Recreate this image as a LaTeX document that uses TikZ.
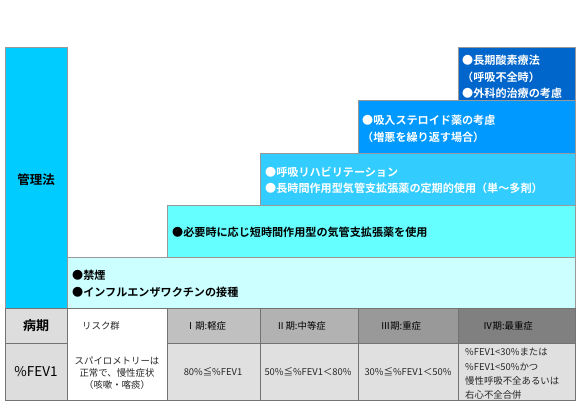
\documentclass[tikz,border=0pt]{standalone}
\usepackage{fontspec}
\setmainfont{Noto Sans CJK JP}[BoldFont={Noto Sans CJK JP Bold}]
\usepackage{xcolor}
\definecolor{kanri}{HTML}{00CCFF}
\definecolor{stepA}{HTML}{CCFFFF}
\definecolor{stepB}{HTML}{66FFFF}
\definecolor{stepC}{HTML}{33CCFF}
\definecolor{stepD}{HTML}{0099FF}
\definecolor{stepE}{HTML}{0066CC}
\definecolor{hdr}{HTML}{DDDDDD}
\definecolor{val}{HTML}{E0E0E0}

\begin{document}
\begin{tikzpicture}[x=1pt,y=-1pt,
  box/.style={draw=black!40, line width=0.6pt},
  tbl/.style={draw=black!55, line width=0.6pt},
  txt/.style={anchor=west, inner sep=0pt, font=\bfseries\fontsize{11.1}{12}\selectfont},
  cell/.style={inner sep=0pt, text=black!85, font=\fontsize{9.4}{12}\selectfont}]
\useasboundingbox (0,0) rectangle (580,408);

% 1. 管理法
\draw[box, fill=kanri] (5,47) rectangle (67,308);
\node[font=\bfseries\fontsize{12.5}{14}\selectfont] (kanri) at (36,180) {管理法};

% 2. 階段
\draw[box, fill=stepA] (67,257) rectangle (575,308);
\draw[box, fill=stepB] (167,205) rectangle (575,257);
\draw[box, fill=stepC] (260,153) rectangle (575,205);
\draw[box, fill=stepD] (358,100) rectangle (575,153);
\draw[box, fill=stepE] (458,47) rectangle (575,100);

\node[txt] (kinen) at (72,275) {●禁煙};
\node[txt] (vac) at (72,292) {●インフルエンザワクチンの接種};
\node[txt] (sabd) at (172,232) {●必要時に応じ短時間作用型の気管支拡張薬を使用};
\node[txt, white] (reha) at (265,172) {●呼吸リハビリテーション};
\node[txt, white] (laba) at (265,188) {●長時間作用型気管支拡張薬の定期的使用（単～多剤）};
\node[txt, white] (ics) at (362,120) {●吸入ステロイド薬の考慮};
\node[txt, white] (zoaku) at (362,137) {（増悪を繰り返す場合）};
\node[txt, white] (ltot) at (462,60) {●長期酸素療法};
\node[txt, white] (fuzen) at (462,77) {（呼吸不全時）};
\node[txt, white] (geka) at (462,93) {●外科的治療の考慮};

% 3. 病期の表
\draw[tbl, fill=hdr] (5,308) rectangle (67,343);
\draw[tbl, fill=hdr] (5,343) rectangle (67,400);
\draw[tbl, fill=white] (67,308) rectangle (167,400);
\foreach \xa/\xb/\col in {167/260/C0C0C0, 260/358/B2B2B2, 358/458/999999, 458/575/808080}{
  \definecolor{tmp}{HTML}{\col}
  \draw[tbl, fill=tmp] (\xa,308) rectangle (\xb,343);
  \draw[tbl, fill=val] (\xa,343) rectangle (\xb,400);
}
\node[font=\bfseries\fontsize{13}{14}\selectfont] (byoki) at (36,326) {病期};
\node[font=\fontsize{13.5}{14}\selectfont] (fev) at (36,372) {\%FEV1};

\node[cell] (risk) at (101,326) {リスク群};
\node[cell, text=black] (st1) at (206,326) {Ⅰ期:軽症};
\node[cell, text=black] (st2) at (301,326) {Ⅱ期:中等症};
\node[cell, text=black] (st3) at (401,326) {Ⅲ期:重症};
\node[cell, text=black] (st4) at (508,326) {Ⅳ期:最重症};

\node[cell] (spiro) at (117,361) {スパイロメトリーは};
\node[cell] (seijo) at (117,373) {正常で、慢性症状};
\node[cell] (gaiso) at (117,385) {（咳嗽・喀痰）};
\node[cell] (v1) at (213,372) {80\%≦\%FEV1};
\node[cell] (v2) at (308,372) {50\%≦\%FEV1＜80\%};
\node[cell] (v3) at (408,372) {30\%≦\%FEV1＜50\%};
\node[cell, anchor=west] (v4a) at (465,352) {\%FEV1<30\%または};
\node[cell, anchor=west] (v4b) at (465,367) {\%FEV1<50\%かつ};
\node[cell, anchor=west] (v4c) at (465,381) {慢性呼吸不全あるいは};
\node[cell, anchor=west] (v4d) at (465,395) {右心不全合併};
\end{tikzpicture}
\end{document}
